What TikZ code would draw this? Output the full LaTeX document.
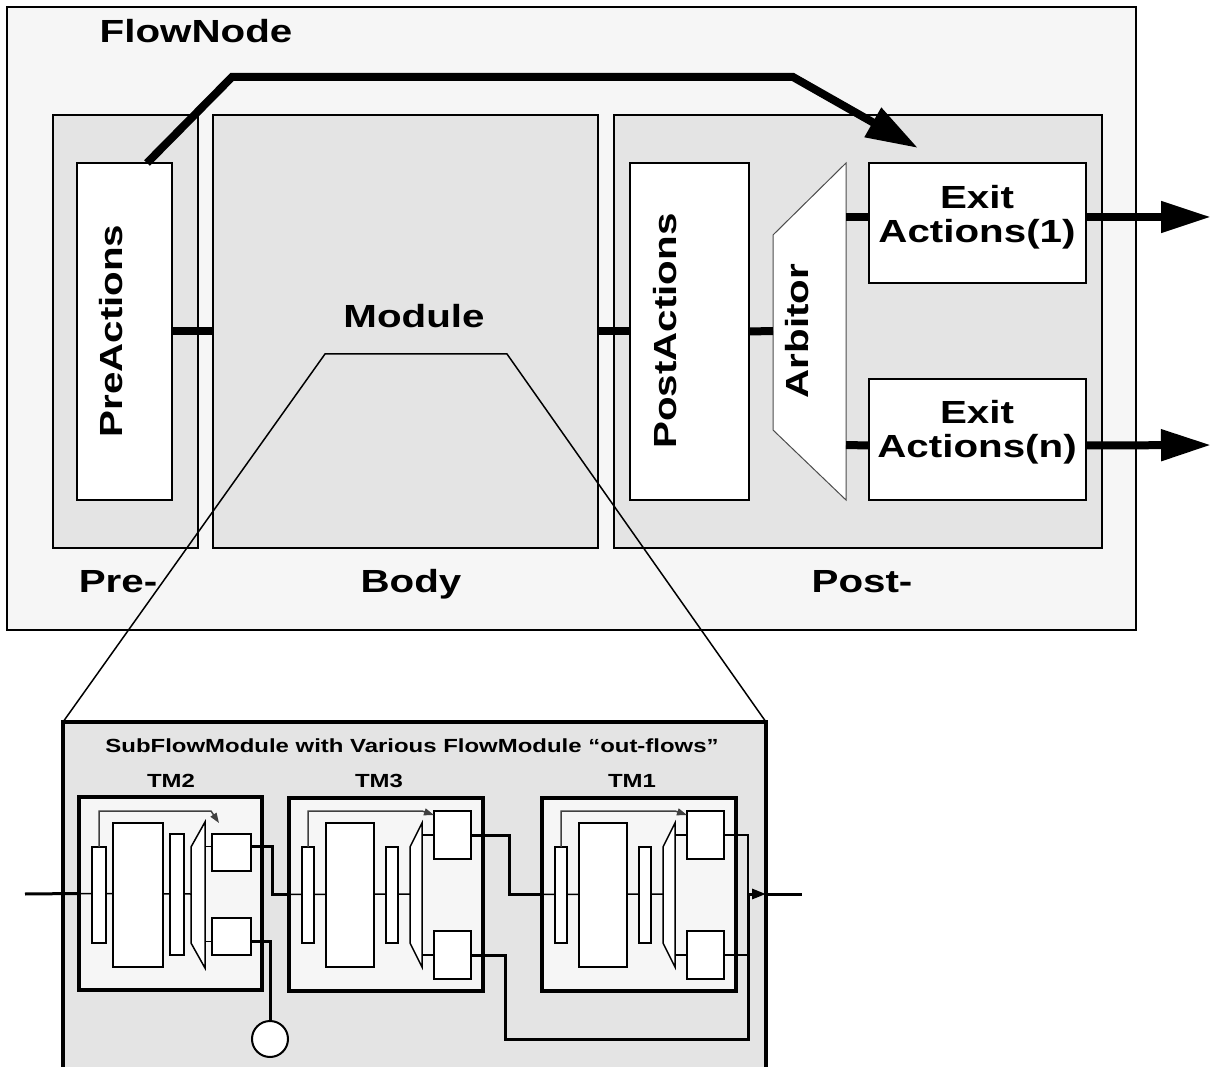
\documentclass[tikz,border=0pt]{standalone}
\usepackage{fontspec}
\setmainfont{Liberation Sans}[FakeStretch=1.26]
\usetikzlibrary{arrows.meta,positioning}
\definecolor{flowgray}{HTML}{F6F6F6}
\definecolor{stagegray}{HTML}{E4E4E4}
\newcommand{\flowfont}{\fontsize{32}{34}\selectfont\bfseries}
\newcommand{\tmfont}{\fontsize{19}{22}\selectfont\bfseries}

\begin{document}
\begin{tikzpicture}[x=1pt,y=-1pt,
  plainbox/.style={draw, anchor=north west, inner sep=0pt, outer sep=0pt},
  flowbox/.style={plainbox, line width=2pt, fill=flowgray},
  stagebox/.style={plainbox, line width=2pt, fill=stagegray},
  actbox/.style={plainbox, line width=2pt, fill=white},
  subbox/.style={plainbox, line width=3.5pt, fill=stagegray},
  tmbox/.style={plainbox, line width=3.5pt, fill=flowgray},
  inbox/.style={plainbox, line width=2pt, fill=white},
  arbshape/.style={draw=black!70, line width=1pt, fill=white},
  inarb/.style={draw, line width=1.5pt, fill=white},
  flowline/.style={line width=8pt},
  zoomline/.style={line width=1.5pt},
  innerline/.style={line width=1.5pt},
  inarrow/.style={line width=1.5pt, draw=black!75, -{Triangle[length=10pt,width=7pt]}},
  linkline/.style={line width=3pt},
  sinkcircle/.style={circle, draw, line width=2pt, fill=white, minimum size=36pt, inner sep=0pt},
  biglabel/.style={font=\flowfont, anchor=base},
  smalllabel/.style={font=\tmfont, anchor=base}]
\useasboundingbox (0,0) rectangle (1211,1067);

% FlowNode and its three stages
\node[flowbox, minimum width=1129pt, minimum height=623pt] (flownode) at (7,7) {};
\node[biglabel] (flowlabel) at (196,43) {FlowNode};
\node[stagebox, minimum width=145pt, minimum height=433pt] (prestage) at (53,115) {};
\node[stagebox, minimum width=385pt, minimum height=433pt] (bodystage) at (213,115) {};
\node[stagebox, minimum width=488pt, minimum height=433pt] (poststage) at (614,115) {};
\node[biglabel] (prelabel) at (118,592) {Pre-};
\node[biglabel] (bodylabel) at (411,592) {Body};
\node[biglabel] (postlabel) at (862,592) {Post-};
\node[biglabel] (modlabel) at (414,328) {Module};

% Actions
\node[actbox, minimum width=95pt, minimum height=337pt] (preact) at (77,163) {};
\node[biglabel, rotate=90] (pretext) at (122,331) {PreActions};
\node[actbox, minimum width=119pt, minimum height=337pt] (postact) at (630,163) {};
\node[biglabel, rotate=90] (posttext) at (676,331) {PostActions};
\draw[arbshape] (773,235) -- (846,163) -- (846,500) -- (773,430) -- cycle;
\coordinate (arbin) at (773,331);
\coordinate (arbone) at (846,217);
\coordinate (arbn) at (846,445);
\node[biglabel, rotate=90] (arbtext) at (808,331) {Arbitor};
\node[actbox, minimum width=217pt, minimum height=120pt] (exitone) at (869,163) {};
\node[font=\flowfont, align=center] (exitonetext) at (977,217) {Exit\\Actions(1)};
\node[actbox, minimum width=217pt, minimum height=121pt] (exitn) at (869,379) {};
\node[font=\flowfont, align=center] (exitntext) at (977,432) {Exit\\Actions(n)};

% Connectors
\draw[flowline] (preact.east) -- (bodystage.west);
\draw[flowline] (bodystage.east) -- (postact.west);
\draw[flowline] (postact.east) -- (arbin);
\draw[flowline] (arbone) -- ([yshift=6pt]exitone.west);
\draw[flowline] (arbn) -- ([yshift=-6pt]exitn.west);
\coordinate (outone) at (1211,217);
\coordinate (outn) at (1211,445);
\draw[flowline, -{Triangle[length=50pt,width=30pt]}] ([yshift=6pt]exitone.east) -- (outone);
\draw[flowline, -{Triangle[length=50pt,width=30pt]}] ([yshift=-6pt]exitn.east) -- (outn);
\coordinate (bypass) at (918,148);
\draw[flowline, -{Triangle[length=52pt,width=32pt]}] ([xshift=-25pt]preact.north east) -- (232,77) -- (793,77) -- (bypass);

% SubFlowModule
\node[subbox, minimum width=703pt, minimum height=380pt] (subflow) at (63,722) {};
\draw[zoomline] (subflow.north west) -- (325,354) -- (507,354) -- (subflow.north east);
\node[smalllabel] (subtitle) at (412,752) {SubFlowModule with Various FlowModule “out-flows”};

% TM2
\node[tmbox, minimum width=183pt, minimum height=193pt] (tmtwo) at (79,797) {};
\node[smalllabel] (tmtwolabel) at (171,787) {TM2};
\draw[innerline] (tmtwo.west) -- (191,894);
\node[inbox, minimum width=14pt, minimum height=96pt] (tmtwo-pre) at (92,847) {};
\node[inbox, minimum width=50pt, minimum height=144pt] (tmtwo-body) at (113,823) {};
\node[inbox, minimum width=14pt, minimum height=121pt] (tmtwo-post) at (170,834) {};
\draw[inarb] (191,847) -- (205,822) -- (205,968) -- (191,943) -- cycle;
\node[inbox, minimum width=39pt, minimum height=37pt] (tmtwo-exone) at (212,834) {};
\node[inbox, minimum width=39pt, minimum height=37pt] (tmtwo-exn) at (212,918) {};
\draw[innerline] ([yshift=6pt]tmtwo-exone.west) -- ++(-7,0);
\draw[innerline] ([yshift=-5pt]tmtwo-exn.west) -- ++(-7,0);
\draw[inarrow] (tmtwo-pre.north) -- ++(0,-36) -- ++(112,0) -- ++(8,12);

% TM3 and TM1
\foreach \tm/\x/\lab in {tmthree/289/TM3, tmone/542/TM1} {
  \begin{scope}[shift={(\x,0)}]
    \node[tmbox, minimum width=194pt, minimum height=193pt] (\tm) at (0,798) {};
    \node[smalllabel] (\tm-label) at (90,787) {\lab};
    \draw[innerline] (\tm.west) -- (121,894);
    \node[inbox, minimum width=12pt, minimum height=96pt] (\tm-pre) at (13,847) {};
    \node[inbox, minimum width=48pt, minimum height=144pt] (\tm-body) at (37,823) {};
    \node[inbox, minimum width=12pt, minimum height=96pt] (\tm-post) at (97,847) {};
    \draw[inarb] (121,847) -- (133,823) -- (133,967) -- (121,943) -- cycle;
    \node[inbox, minimum width=37pt, minimum height=48pt] (\tm-exone) at (145,811) {};
    \node[inbox, minimum width=37pt, minimum height=48pt] (\tm-exn) at (145,931) {};
    \draw[innerline] (\tm-exone.west) -- ++(-12,0);
    \draw[innerline] (\tm-exn.west) -- ++(-12,0);
    \draw[inarrow] (\tm-pre.north) |- ([xshift=-12pt]\tm-exone.north west) -- ([yshift=-4pt]\tm-exone.north west);
  \end{scope}
}

% Out-flows
\coordinate (flowin) at (25,894);
\coordinate (merge) at (748,894);
\coordinate (loopcorner) at (748,1039);
\coordinate (subout) at (766,894);
\coordinate (flowout) at (802,894);
\node[sinkcircle] (sink) at (270,1039) {};
\draw[linkline] (flowin) -- (tmtwo.west);
\draw[linkline] ([yshift=6pt]tmtwo-exone.east) -- ++(21,0) |- (tmthree.west);
\draw[linkline] ([yshift=-5pt]tmtwo-exn.east) -| (sink.north);
\draw[linkline] (tmthree-exone.east) -- ++(38,0) |- (tmone.west);
\draw[linkline] (tmthree-exn.east) -- ++(34,0) |- (loopcorner) -- (merge);
\draw[innerline] (tmone-exone.east) -| (merge) |- (tmone-exn.east);
\draw[linkline, -{Triangle[length=14pt,width=10pt]}] (merge) -- (subout);
\draw[linkline] (subout) -- (flowout);
\end{tikzpicture}
\end{document}
